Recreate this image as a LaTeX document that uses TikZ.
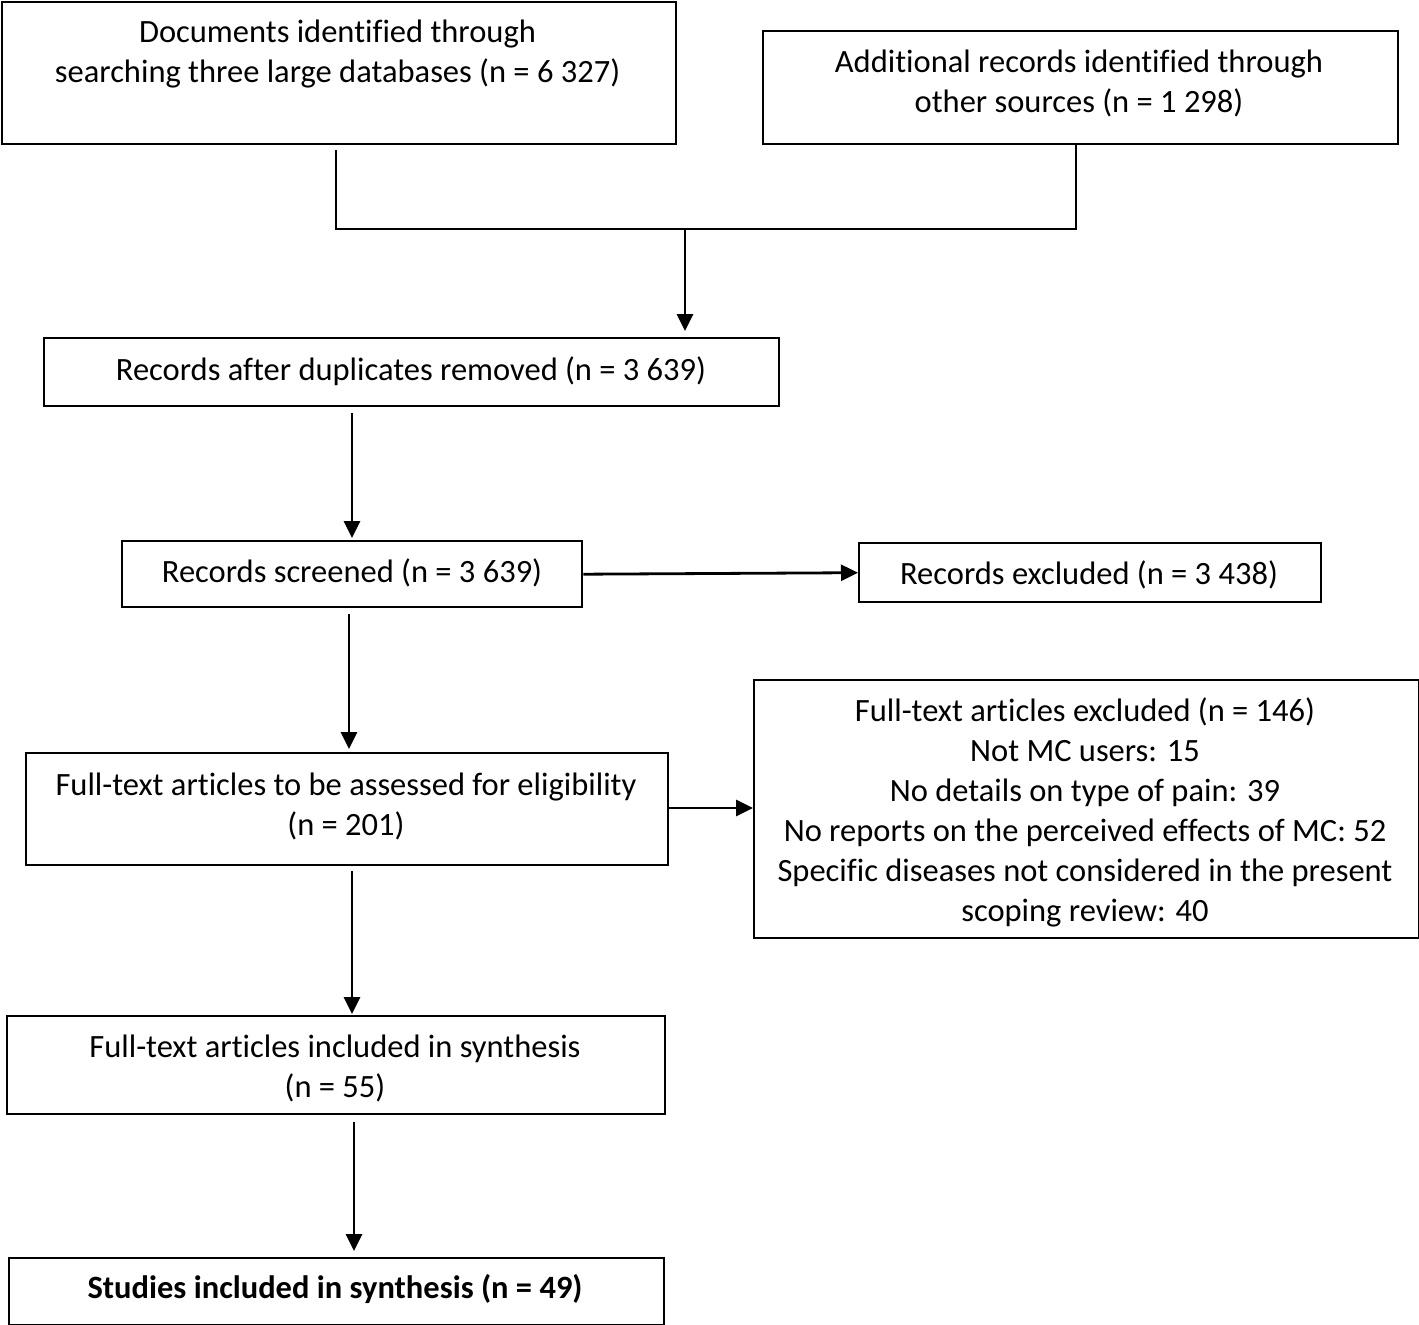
\documentclass[tikz,border=0pt]{standalone}
\usepackage{fontspec}
\setmainfont{Carlito}[Ligatures=NoCommon]
\usetikzlibrary{arrows.meta}
\tikzset{
  box/.style={draw, line width=2.4pt, inner sep=0pt, anchor=north west},
  txt/.style={align=center, inner sep=0pt, font=\fontsize{32.5}{40}\selectfont},
  conn/.style={line width=2.4pt},
  arr/.style={line width=2.8pt, -{Triangle[length=17pt,width=16pt]}},
}
\begin{document}
\begin{tikzpicture}[x=1pt,y=1pt]
\useasboundingbox (0,0) rectangle (1419,-1325);
% boxes
\node[box, minimum width=674, minimum height=142] (b1) at (1,-1) {};
\node[box, minimum width=635, minimum height=113] (b2) at (762,-30) {};
\node[box, minimum width=735, minimum height=68] (b3) at (43,-337) {};
\node[box, minimum width=460, minimum height=66] (b4) at (121,-540) {};
\node[box, minimum width=462, minimum height=59] (b5) at (858,-542) {};
\node[box, minimum width=642, minimum height=112] (b6) at (25,-752) {};
\node[box, minimum width=665, minimum height=258] (b7) at (753,-679) {};
\node[box, minimum width=658, minimum height=98] (b8) at (6,-1015) {};
\node[box, minimum width=655, minimum height=67] (b9) at (8,-1257) {};
% texts
\node[txt] (t1) at (337.5,-54) {Documents identified through\\searching three large databases (n = 6 327)};
\node[txt] (t2) at (1079,-83) {Additional records identified through\\other sources (n = 1 298)};
\node[txt] (t3) at (411,-371) {Records after duplicates removed (n = 3 639)};
\node[txt] (t4) at (352,-573) {Records screened (n = 3 639)};
\node[txt] (t5) at (1089,-575) {Records excluded (n = 3 438)};
\node[txt] (t6) at (346,-806) {Full-text articles to be assessed for eligibility\\(n = 201)};
\node[txt] (t7) at (1085,-812) {Full-text articles excluded (n = 146)\\Not MC users: 15\\No details on type of pain: 39\\No reports on the perceived effects of MC: 52\\Specific diseases not considered in the present\\scoping review: 40};
\node[txt] (t8) at (335,-1068) {Full-text articles included in synthesis\\(n = 55)};
\node[txt, font=\fontsize{32.5}{40}\selectfont\bfseries] (t9) at (335,-1289) {Studies included in synthesis (n = 49)};
% connectors
\coordinate (j1) at (336,-229);
\coordinate (j2) at (1076,-229);
\coordinate (jm) at (685,-229);
\draw[conn] ([yshift=-5pt]b1.south -| j1) -- (j1) -- (j2) -- (b2.south -| j2);
\draw[arr, shorten >=6pt] (jm) -- (b3.north -| jm);
\draw[arr, shorten <=6pt, shorten >=2pt] (b3.south -| 352,0) -- (b4.north -| 352,0);
\draw[arr] (b4.east) -- (b5.west);
\draw[arr, shorten <=6pt, shorten >=3pt] (b4.south -| 349,0) -- (b6.north -| 349,0);
\draw[arr] (b6.east |- 0,-808) -- (b7.west |- 0,-808);
\draw[arr, shorten <=5pt, shorten >=1pt] (b6.south -| 352,0) -- (b8.north -| 352,0);
\draw[arr, shorten <=7pt, shorten >=6pt] (b8.south -| 354,0) -- (b9.north -| 354,0);
\end{tikzpicture}
\end{document}
